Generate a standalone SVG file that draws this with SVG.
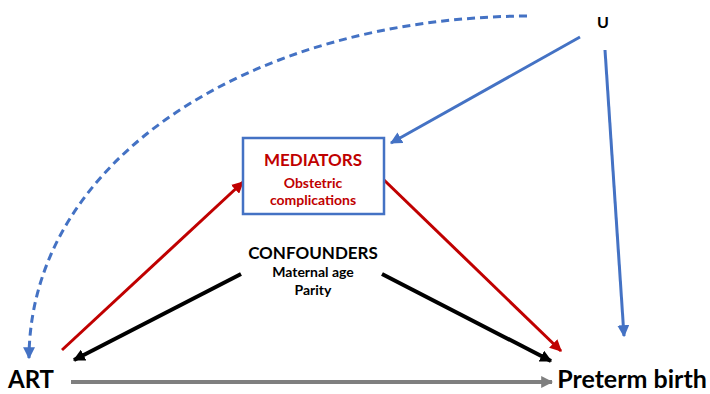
<svg xmlns="http://www.w3.org/2000/svg" width="710" height="394" viewBox="0 0 710 394">
<defs>
<style>
text{font-family:Lato,"Open Sans","Liberation Sans",sans-serif;font-weight:bold;text-anchor:middle}
.big{font-size:24px;fill:#000}
.hd{font-size:17px}
.sub{font-size:14px}
.red{fill:#C00000}
.blk{fill:#000}
.blue{stroke:#4472C4;stroke-width:3;fill:none}
</style>
<marker id="ab" viewBox="0 0 10 10" refX="9" refY="5" markerWidth="4" markerHeight="4" orient="auto" markerUnits="strokeWidth"><path d="M0,0L10,5L0,10z" fill="#4472C4"/></marker>
<marker id="ar" viewBox="0 0 10 10" refX="9" refY="5" markerWidth="4" markerHeight="4" orient="auto" markerUnits="strokeWidth"><path d="M0,0L10,5L0,10z" fill="#C00000"/></marker>
<marker id="ak" viewBox="0 0 10 10" refX="9" refY="5" markerWidth="3" markerHeight="3" orient="auto" markerUnits="strokeWidth"><path d="M0,0L10,5L0,10z" fill="#000"/></marker>
<marker id="ag" viewBox="0 0 10 10" refX="9" refY="5" markerWidth="3" markerHeight="3" orient="auto" markerUnits="strokeWidth"><path d="M0,0L10,5L0,10z" fill="#7F7F7F"/></marker>
</defs>
<g id="connectors">
<path class="blue" d="M527,16 C250,18 30,160 29,358" stroke-dasharray="8,5" stroke-width="2.5" marker-end="url(#ab)"/>
<line class="blue" x1="580" y1="37" x2="391" y2="143" marker-end="url(#ab)"/>
<line class="blue" x1="605" y1="50" x2="624" y2="336" marker-end="url(#ab)"/>
<line x1="62" y1="350" x2="243" y2="182" stroke="#C00000" stroke-width="3" marker-end="url(#ar)"/>
<line x1="384" y1="180" x2="561" y2="351" stroke="#C00000" stroke-width="3" marker-end="url(#ar)"/>
<line x1="241" y1="274" x2="74" y2="360" stroke="#000" stroke-width="4" marker-end="url(#ak)"/>
<line x1="382" y1="274" x2="551" y2="361" stroke="#000" stroke-width="4" marker-end="url(#ak)"/>
<line x1="71" y1="382" x2="552" y2="382" stroke="#7F7F7F" stroke-width="4" marker-end="url(#ag)"/>
</g>
<g id="U"><text x="603" y="28" style="font-size:16px">U</text></g>
<g id="mediators">
<rect x="243" y="138" width="141" height="76" fill="#fff" stroke="#4472C4" stroke-width="2.5"/>
<text x="313" y="166" class="hd red">MEDIATORS</text>
<text x="313" y="188" class="sub red">Obstetric</text>
<text x="313" y="205" class="sub red">complications</text>
</g>
<g id="confounders">
<text x="313" y="259" class="hd blk">CONFOUNDERS</text>
<text x="313" y="277" class="sub blk">Maternal age</text>
<text x="313" y="295" class="sub blk">Parity</text>
</g>
<g id="ART"><text x="31" y="388" class="big">ART</text></g>
<g id="preterm"><text x="632" y="388" class="big" style="font-size:25px">Preterm birth</text></g>
</svg>
